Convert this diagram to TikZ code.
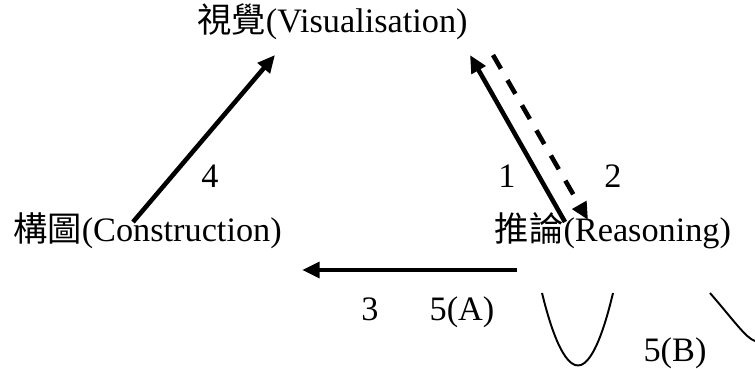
\documentclass[tikz,border=0pt]{standalone}
\usepackage{fontspec}
\setmainfont{Liberation Serif}
\newfontfamily\cjk{Noto Sans CJK TC}
\usetikzlibrary{arrows.meta}

\begin{document}
\begin{tikzpicture}[
    every node/.style={font=\fontsize{19.5}{23}\selectfont, inner sep=0pt, anchor=base},
    arr/.style={-{Triangle[length=3.5mm, width=3.1mm]}, line width=2.6pt},
    dasharr/.style={arr, dash pattern=on 9pt off 7.5pt},
    curve/.style={line width=1.1pt}
]
    \useasboundingbox (0,0) rectangle (15.1,7.36);

    % the three stages
    \node (vis) at (6.65,6.7) {{\cjk 視覺}(Visualisation)};
    \node (con) at (2.95,2.52) {{\cjk 構圖}(Construction)};
    \node (rea) at (12.26,2.52) {{\cjk 推論}(Reasoning)};

    % arrow ends
    \coordinate (con-up) at (2.66,2.92);
    \coordinate (vis-left) at (5.5,6.26);
    \coordinate (rea-up) at (11.3,2.92);
    \coordinate (vis-right) at (9.4,6.26);
    \coordinate (vis-dash) at (9.86,6.26);
    \coordinate (rea-dash) at (11.76,2.96);
    \coordinate (rea-left) at (10.34,1.96);
    \coordinate (con-right) at (6.04,1.96);

    \draw[arr] (con-up) -- (vis-left);
    \draw[arr] (rea-up) -- (vis-right);
    \draw[dasharr] (vis-dash) -- (rea-dash);
    \draw[arr] (rea-left) -- (con-right);

    % step numbers
    \node (n4) at (4.2,3.6) {4};
    \node (n1) at (10.14,3.6) {1};
    \node (n2) at (12.26,3.6) {2};
    \node (n3) at (7.4,0.96) {3};
    \node (n5a) at (9.24,0.96) {5(A)};
    \node (n5b) at (13.5,0.14) {5(B)};

    % curves
    \draw[curve] (10.84,1.5) parabola bend (11.56,0.05) (12.26,1.5);
    \draw[curve] (14.2,1.5) .. controls (14.7,0.92) and (14.92,0.6) .. (15.1,0.54);
\end{tikzpicture}
\end{document}
